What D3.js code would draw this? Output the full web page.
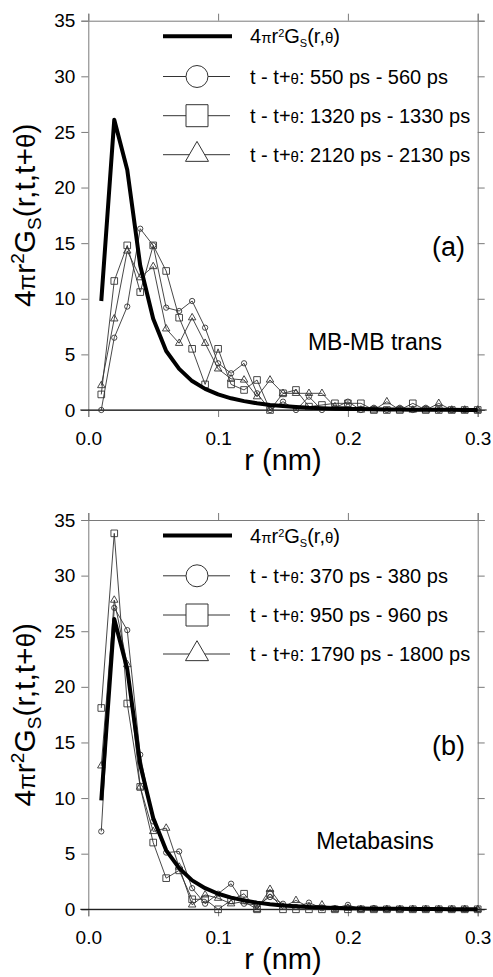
<!DOCTYPE html>
<html>
<head>
<meta charset="utf-8">
<style>
  body { margin: 0; background: #fff; }
  text { font-family: Arial, "Liberation Sans", sans-serif; }
</style>
</head>
<body>
<script src="https://cdn.jsdelivr.net/npm/d3@7"></script>
<script>
// r values (nm) shared by all curves
var rValues = [0.01, 0.02, 0.03, 0.04, 0.05, 0.06, 0.07, 0.08, 0.09, 0.10,
               0.11, 0.12, 0.13, 0.14, 0.15, 0.16, 0.17, 0.18, 0.19, 0.20,
               0.21, 0.22, 0.23, 0.24, 0.25, 0.26, 0.27, 0.28, 0.29, 0.30];

// 4 pi r^2 Gs(r,theta), thick curve (same in both panels)
var gsAverage = [9.8, 26.1, 21.6, 13.0, 8.2, 5.3, 3.7, 2.6, 1.9, 1.4,
                 1.05, 0.8, 0.6, 0.45, 0.35, 0.27, 0.2, 0.16, 0.12, 0.1,
                 0.08, 0.06, 0.05, 0.04, 0.03, 0.025, 0.02, 0.015, 0.01, 0.01];

// panel (a): MB-MB transitions
var aCircle = [0, 6.5, 9.3, 16.3, 14.8, 9.2, 8.9, 9.8, 7.4, 4.2,
               3.3, 4.2, 1.5, 0, 0.75, 0, 1.2, 0, 0.2, 0.75,
               0, 0.2, 0, 0.2, 0, 0.2, 0, 0, 0, 0];
var aSquare = [1.4, 11.6, 14.8, 10.6, 14.8, 12.5, 8.3, 5.5, 2.3, 5.5,
               2.3, 1.8, 2.7, 0, 1.5, 1.8, 0.3, 0.45, 0.6, 0.6,
               0.6, 0, 0, 0, 0.6, 0, 0, 0, 0, 0];
var aTriangle = [2.2, 8.2, 14.3, 11.9, 12.9, 7.3, 6.0, 8.3, 6.0, 3.7,
                 2.8, 2.7, 1.2, 2.7, 1.5, 1.5, 1.5, 1.5, 0.3, 0.3,
                 0, 0, 0.75, 0, 0, 0, 0.6, 0, 0, 0];
var aLabels = ['550 ps - 560 ps', '1320 ps - 1330 ps', '2120 ps - 2130 ps'];

// panel (b): metabasins
var bCircle = [7.0, 27.1, 25.1, 13.9, 7.9, 5.1, 5.2, 1.9, 0.5, 1.4,
               2.3, 0.5, 0.4, 1.1, 0.5, 0.2, 0.6, 0.1, 0.1, 0.4,
               0, 0.1, 0, 0, 0, 0, 0, 0, 0, 0];
var bSquare = [18.1, 33.8, 18.5, 11.0, 6.0, 2.8, 3.5, 0.9, 0.9, 0,
               0.8, 1.4, 0, 1.4, 0, 0, 0, 0, 0, 0,
               0, 0, 0, 0, 0, 0, 0, 0, 0, 0];
var bTriangle = [12.9, 27.8, 22.0, 11.0, 7.0, 7.3, 3.8, 0.4, 1.3, 1.0,
                 0.5, 0.7, 0, 1.8, 0.2, 0.8, 0.2, 0.4, 0, 0.1,
                 0, 0, 0, 0, 0, 0, 0, 0, 0, 0];
var bLabels = ['370 ps - 380 ps', '950 ps - 960 ps', '1790 ps - 1800 ps'];

var xTicks = [0, 0.1, 0.2, 0.3];
var yTicks = [0, 5, 10, 15, 20, 25, 30, 35];

var svgWidth = 493, svgHeight = 977;
var svg = d3.select('body').append('svg')
    .attr('width', svgWidth).attr('height', svgHeight);

var frameColor = '#7a7a7a', seriesColor = '#333';
var left = 88.3, right = 477.7, plotH = 389.3;

var xScale = d3.scaleLinear().domain([0, 0.3]).range([left, right]);

var symbols = [d3.symbolCircle, d3.symbolSquare, d3.symbolTriangle];
var smallSize = [22, 44, 24];
var bigSize = [380, 484, 230];

function drawPanel(top, series, labels, tag, note) {
    var yScale = d3.scaleLinear().domain([0, 35]).range([top + plotH, top]);
    var g = svg.append('g');

    // frame axes
    var axL = g.append('g').attr('transform', 'translate(' + left + ',0)')
        .call(d3.axisLeft(yScale).tickValues(yTicks).tickSizeOuter(0).tickSize(7).tickPadding(6));
    var axR = g.append('g').attr('transform', 'translate(' + right + ',0)')
        .call(d3.axisRight(yScale).tickValues(yTicks).tickSizeOuter(0).tickSize(7).tickFormat(''));
    var axT = g.append('g').attr('transform', 'translate(0,' + top + ')')
        .call(d3.axisTop(xScale).tickValues(xTicks).tickSizeOuter(0).tickSize(7).tickFormat(''));
    var axB = g.append('g').attr('transform', 'translate(0,' + (top + plotH) + ')')
        .call(d3.axisBottom(xScale).tickValues(xTicks).tickSizeOuter(0).tickSize(7)
              .tickPadding(10).tickFormat(d3.format('.1f')));
    [axL, axR, axT, axB].forEach(function (ax) {
        ax.selectAll('path, line').attr('stroke', frameColor);
        ax.selectAll('text').attr('fill', '#000').style('font-size', '19px')
          .style('font-family', 'Arial, "Liberation Sans", sans-serif');
    });
    axB.selectAll('text').attr('dy', '0.95em');
    g.append('line')
        .attr('x1', left - 8).attr('x2', right + 9)
        .attr('y1', yScale(0)).attr('y2', yScale(0))
        .attr('stroke', '#000').attr('stroke-width', 1);

    var line = d3.line()
        .x(function (d) { return xScale(d[0]); })
        .y(function (d) { return yScale(d[1]); });

    series.forEach(function (vals, i) {
        var pts = rValues.map(function (r, k) { return [r, vals[k]]; });
        g.append('path').datum(pts).attr('d', line)
            .attr('fill', 'none').attr('stroke', seriesColor).attr('stroke-width', 0.9);
        g.selectAll('.m' + i).data(pts).enter().append('path')
            .attr('transform', function (d) { return 'translate(' + xScale(d[0]) + ',' + yScale(d[1]) + ')'; })
            .attr('d', d3.symbol().type(symbols[i]).size(smallSize[i]))
            .attr('fill', 'none').attr('stroke', seriesColor).attr('stroke-width', 0.9);
    });

    var thick = rValues.map(function (r, k) { return [r, gsAverage[k]]; });
    g.append('path').datum(thick).attr('d', line)
        .attr('fill', 'none').attr('stroke', '#000').attr('stroke-width', 4)
        .attr('stroke-linejoin', 'round');

    // legend
    var rows = [top + 15.5, top + 55.8, top + 95, top + 134];
    g.append('line').attr('x1', 163).attr('x2', 232)
        .attr('y1', rows[0]).attr('y2', rows[0])
        .attr('stroke', '#000').attr('stroke-width', 4);
    var t0 = g.append('text').attr('x', 250).attr('y', rows[0]).attr('dy', '0.35em')
        .style('font-size', '20px');
    t0.append('tspan').text('4');
    t0.append('tspan').text('π').style('font-size', '15px');
    t0.append('tspan').text('r');
    t0.append('tspan').text('2').style('font-size', '11px').attr('dy', '-6');
    t0.append('tspan').text('G').attr('dy', '6');
    t0.append('tspan').text('S').style('font-size', '11px').attr('dy', '4');
    t0.append('tspan').text('(r,').attr('dy', '-4');
    t0.append('tspan').text('θ').style('font-size', '15px');
    t0.append('tspan').text(')');

    labels.forEach(function (lab, i) {
        var y = rows[i + 1];
        g.append('line').attr('x1', 163).attr('x2', 230).attr('y1', y).attr('y2', y)
            .attr('stroke', seriesColor).attr('stroke-width', 1);
        g.append('path').attr('transform', 'translate(197,' + y + ')')
            .attr('d', d3.symbol().type(symbols[i]).size(bigSize[i]))
            .attr('fill', '#fff').attr('stroke', seriesColor).attr('stroke-width', 1);
        var t = g.append('text').attr('x', 250).attr('y', y).attr('dy', '0.35em')
            .style('font-size', '20px');
        t.append('tspan').text('t - t+');
        t.append('tspan').text('θ').style('font-size', '15px');
        t.append('tspan').text(': ' + lab);
    });

    g.append('text').attr('x', 465).attr('y', top + 226).attr('dy', '0.35em')
        .attr('text-anchor', 'end').style('font-size', '27px').text(tag);
    g.append('text').attr('x', 375).attr('y', top + 321).attr('dy', '0.35em')
        .attr('text-anchor', 'middle').style('font-size', '23px').text(note);

    // axis titles
    var yl = g.append('text')
        .attr('transform', 'translate(35,' + (top + plotH / 2) + ') rotate(-90)')
        .attr('text-anchor', 'middle').style('font-size', '30px');
    yl.append('tspan').text('4');
    yl.append('tspan').text('π').style('font-size', '24px');
    yl.append('tspan').text('r');
    yl.append('tspan').text('2').style('font-size', '19px').attr('dy', '-11');
    yl.append('tspan').text('G').attr('dy', '11');
    yl.append('tspan').text('S').style('font-size', '19px').attr('dy', '6');
    yl.append('tspan').text('(r,t,t+').attr('dy', '-6');
    yl.append('tspan').text('θ').style('font-size', '26px');
    yl.append('tspan').text(')');

    g.append('text').attr('x', (left + right) / 2).attr('y', top + plotH + 60)
        .attr('text-anchor', 'middle').style('font-size', '29px').text('r (nm)');
}

drawPanel(20.7, [aCircle, aSquare, aTriangle], aLabels, '(a)', 'MB-MB trans');
drawPanel(520, [bCircle, bSquare, bTriangle], bLabels, '(b)', 'Metabasins');
</script>
</body>
</html>
